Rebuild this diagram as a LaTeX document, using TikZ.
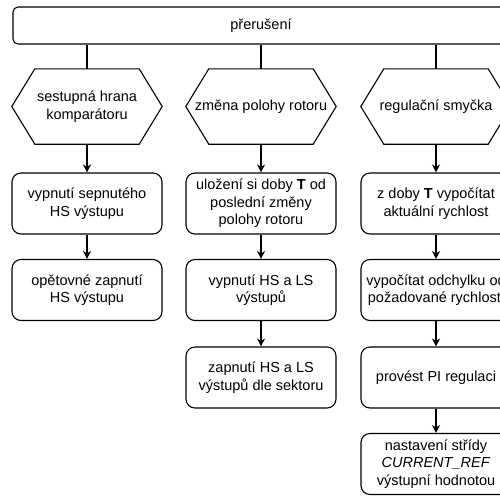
\documentclass[tikz,border=0pt]{standalone}
\usepackage{fontspec}
\setmainfont{Liberation Sans}
\usetikzlibrary{arrows.meta}
\begin{document}
\begin{tikzpicture}[x=1pt,y=-1pt,
  txt/.style={font=\fontsize{14.5}{17.5}\selectfont, align=center, text=black},
  topbox/.style={txt, draw=black, line width=1.1pt, rounded corners=5pt, minimum width=496pt, minimum height=37pt, inner sep=0pt},
  stepbox/.style={txt, draw=black, line width=1.1pt, rounded corners=9pt, minimum width=150pt, minimum height=61pt, inner sep=0pt},
  hexbox/.style={txt, minimum width=150pt, minimum height=75pt, inner sep=0pt},
  hexline/.style={draw=black, line width=1.1pt, line join=miter},
  conn/.style={draw=black, line width=1.1pt},
  arr/.style={conn, -{Stealth[length=8pt,width=8pt]}}
]
\useasboundingbox (0,0) rectangle (500,496);
\clip (0,0) rectangle (500,496);

\node[topbox] (top) at (261,25.5) {přerušení};

\node[hexbox] (h1) at (87,106.5) {sestupná hrana\\komparátoru};
\node[hexbox] (h2) at (261,106.5) {změna polohy rotoru};
\node[hexbox] (h3) at (436,106.5) {regulační smyčka};
\foreach \h in {h1,h2,h3}{
  \path[hexline] ([xshift=23pt]\h.north west) -- ([xshift=-23pt]\h.north east) -- (\h.east)
    -- ([xshift=-23pt]\h.south east) -- ([xshift=23pt]\h.south west) -- (\h.west) -- cycle;
}

\node[stepbox] (a1) at (87,203.5) {vypnutí sepnutého\\HS výstupu};
\node[stepbox] (a2) at (87,290) {opětovné zapnutí\\HS výstupu};

\node[stepbox] (b1) at (261,203.5) {uložení si doby \textbf{T} od\\poslední změny\\polohy rotoru};
\node[stepbox] (b2) at (261,290) {vypnutí HS a LS\\výstupů};
\node[stepbox] (b3) at (261,377.5) {zapnutí HS a LS\\výstupů dle sektoru};

\node[stepbox] (c1) at (436,203.5) {z doby \textbf{T} vypočítat\\aktuální rychlost};
\node[stepbox] (c2) at (436,290) {vypočítat odchylku od\\požadované rychlosti};
\node[stepbox] (c3) at (436,377.5) {provést PI regulaci};
\node[stepbox] (c4) at (436,464) {nastavení střídy\\\textit{CURRENT\_REF}\\výstupní hodnotou};

\path[conn] (top.south -| h1.north) -- (h1.north);
\path[conn] (top.south -| h2.north) -- (h2.north);
\path[conn] (top.south -| h3.north) -- (h3.north);

\path[arr] (h1.south) -- (a1.north);
\path[arr] (a1.south) -- (a2.north);
\path[arr] (h2.south) -- (b1.north);
\path[arr] (b1.south) -- (b2.north);
\path[arr] (b2.south) -- (b3.north);
\path[arr] (h3.south) -- (c1.north);
\path[arr] (c1.south) -- (c2.north);
\path[arr] (c2.south) -- (c3.north);
\path[arr] (c3.south) -- (c4.north);
\end{tikzpicture}
\end{document}
